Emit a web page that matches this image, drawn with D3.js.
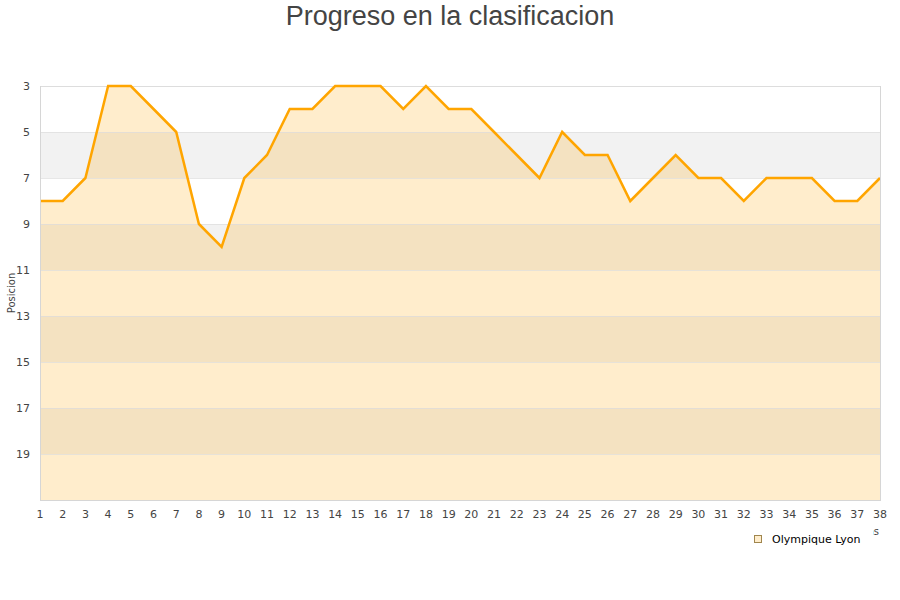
<!DOCTYPE html>
<html><head><meta charset="utf-8">
<script src="https://cdn.jsdelivr.net/npm/d3@7/dist/d3.min.js"></script>
<style>body{margin:0;background:#fff;}svg{display:block;}</style>
</head><body><svg id="c" width="900" height="600"></svg>
<script>
const jornadas = d3.range(1, 39);
const posiciones = [8,8,7,3,3,4,5,9,10,7,6,4,4,3,3,3,4,3,4,4,5,6,7,5,6,6,8,7,6,7,7,8,7,7,7,8,8,7];
const yTicks = [3,5,7,9,11,13,15,17,19];
const seriesName = "Olympique Lyon";
const title = "Progreso en la clasificacion";

const svg = d3.select("#c");
const L = 40, R = 880, T = 86, B = 500;
const x = d3.scaleLinear().domain([1, 38]).range([L, R]);
const y = d3.scaleLinear().domain([3, 21]).range([T, B]);

// bands
const bands = d3.range(3, 21, 2);
svg.append("g").selectAll("rect").data(bands).join("rect")
  .attr("x", L).attr("width", R - L)
  .attr("y", d => y(d)).attr("height", d => y(d + 2) - y(d))
  .attr("fill", (d, i) => i % 2 === 1 ? "#f2f2f2" : "#ffffff");

// area
const data = jornadas.map((j, i) => ({j, p: posiciones[i]}));
svg.append("path").datum(data)
  .attr("d", d3.area().x(d => x(d.j)).y0(B).y1(d => y(d.p)))
  .attr("fill", "orange").attr("fill-opacity", 0.2);

// grid lines
svg.append("g").selectAll("line").data(yTicks).join("line")
  .attr("x1", L).attr("x2", R)
  .attr("y1", d => y(d) + 0.5).attr("y2", d => y(d) + 0.5)
  .attr("stroke", "#dddddd").attr("stroke-width", 1)
  .attr("stroke-opacity", (d) => d === 3 ? 1 : 0.7);

// line
svg.append("path").datum(data)
  .attr("d", d3.line().x(d => x(d.j)).y(d => y(d.p)))
  .attr("fill", "none").attr("stroke", "orange").attr("stroke-width", 2.5);

// frame
svg.append("line").attr("x1", L + 0.5).attr("x2", L + 0.5).attr("y1", T).attr("y2", B)
  .attr("stroke", "#d6d6d6");
svg.append("line").attr("x1", R + 0.5).attr("x2", R + 0.5).attr("y1", T).attr("y2", B)
  .attr("stroke", "#d6d6d6");
svg.append("line").attr("x1", L).attr("x2", R + 1).attr("y1", B + 0.5).attr("y2", B + 0.5)
  .attr("stroke", "#d6d6d6");

// y tick labels
svg.append("g").selectAll("text").data(yTicks).join("text")
  .attr("x", 30).attr("y", d => y(d) + 4)
  .attr("text-anchor", "end")
  .attr("font-family", "DejaVu Sans").attr("font-size", 11).attr("fill", "#444")
  .text(d => d);

// x tick labels
svg.append("g").selectAll("text").data(jornadas).join("text")
  .attr("x", d => x(d)).attr("y", 518)
  .attr("text-anchor", "middle")
  .attr("font-family", "DejaVu Sans").attr("font-size", 11).attr("fill", "#444")
  .text(d => d);

// y axis title
svg.append("text")
  .attr("transform", "translate(15,293) rotate(-90)")
  .attr("text-anchor", "middle")
  .attr("font-family", "DejaVu Sans").attr("font-size", 10).attr("fill", "#444")
  .text("Posicion");

// x axis title (partly hidden by legend, as in the reference)
svg.append("text")
  .attr("x", 879).attr("y", 535).attr("text-anchor", "end")
  .attr("font-family", "DejaVu Sans").attr("font-size", 10).attr("fill", "#444")
  .text("Jornadas");

// legend
const lg = svg.append("g");
lg.append("rect").attr("x", 745).attr("y", 527).attr("width", 128).attr("height", 26).attr("fill", "#fff");
lg.append("rect").attr("x", 754.5).attr("y", 535.5).attr("width", 7).attr("height", 7)
  .attr("fill", "#ffedcc").attr("stroke", "#a0864e").attr("stroke-width", 1);
lg.append("text").attr("x", 772).attr("y", 543)
  .attr("font-family", "DejaVu Sans").attr("font-size", 11).attr("fill", "#000")
  .text(seriesName);

// title
svg.append("text").attr("x", 450).attr("y", 25).attr("text-anchor", "middle")
  .attr("font-family", "Liberation Sans").attr("font-size", 27).attr("fill", "#444")
  .text(title);
</script></body></html>
